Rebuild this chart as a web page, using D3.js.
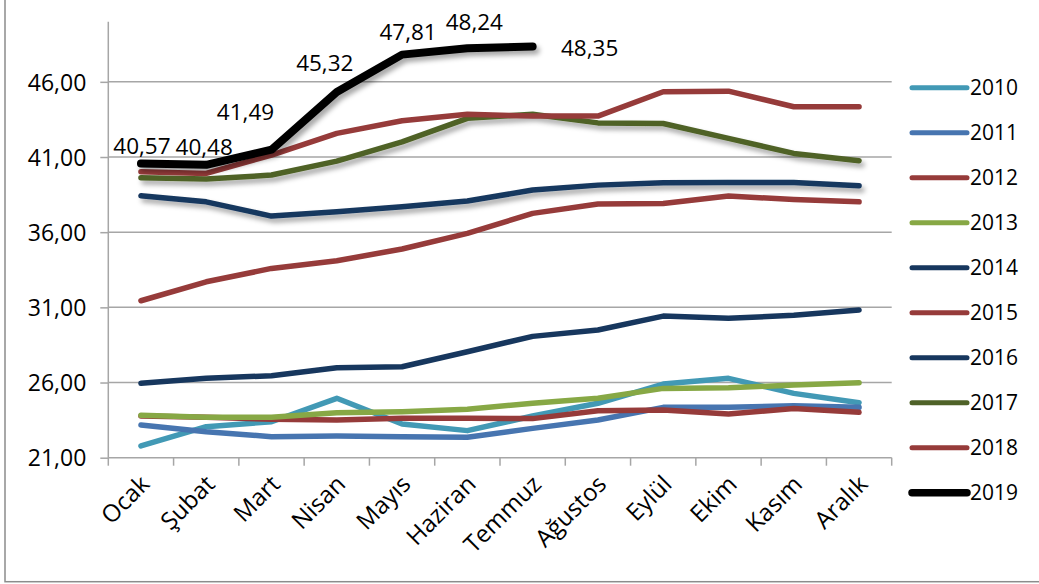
<!DOCTYPE html>
<html>
<head>
<meta charset="utf-8">
<script src="https://cdn.jsdelivr.net/npm/d3@7/dist/d3.min.js"></script>
<style>
  html, body { margin: 0; padding: 0; background: #fff; }
  svg { display: block; }
  text { font-family: "Open Sans", "Noto Sans", sans-serif; fill: #000; }
</style>
</head>
<body>
<svg id="chart" width="1039" height="584"></svg>
<script>
// ---- data ----
const months = ["Ocak","Şubat","Mart","Nisan","Mayıs","Haziran","Temmuz","Ağustos","Eylül","Ekim","Kasım","Aralık"];
const years = ["2010","2011","2012","2013","2014","2015","2016","2017","2018","2019"];
const yTicks = [21, 26, 31, 36, 41, 46];
const v2010 = [21.78,23.06,23.39,24.95,23.24,22.80,23.77,24.62,25.90,26.28,25.28,24.66];
const v2011 = [23.17,22.73,22.40,22.44,22.40,22.36,22.95,23.51,24.35,24.35,24.46,24.35];
const v2012 = [23.77,23.69,23.55,23.51,23.62,23.62,23.60,24.12,24.17,23.90,24.28,24.02];
const v2013 = [23.82,23.69,23.69,23.99,24.06,24.22,24.62,24.95,25.61,25.65,25.83,25.99];
const v2014 = [25.95,26.28,26.45,26.98,27.05,28.05,29.07,29.49,30.42,30.27,30.47,30.82];
const v2015 = [31.44,32.70,33.59,34.10,34.88,35.92,37.25,37.87,37.91,38.40,38.18,38.02];
const v2016 = [38.42,38.02,37.07,37.36,37.69,38.07,38.80,39.13,39.28,39.30,39.30,39.09];
const v2017 = [39.62,39.53,39.80,40.73,42.01,43.57,43.85,43.27,43.23,42.24,41.24,40.75];
const v2018 = [40.02,39.91,41.13,42.57,43.41,43.85,43.72,43.72,45.34,45.38,44.34,44.34];
const v2019 = [40.57,40.48,41.49,45.32,47.81,48.24,48.35];
const seriesValues = [v2010,v2011,v2012,v2013,v2014,v2015,v2016,v2017,v2018,v2019];

// ---- styles ----
const colors = ["#4299B5","#4775B0","#963B3A","#87A845","#17375E","#963B3A","#17375E","#4F6228","#963B3A","#000000"];
const widths = [5.5,5.5,5.5,5.5,5.5,5.5,5.5,5.5,5.5,8];
const shadowed = [false,false,false,false,false,false,true,true,false,true];
// label offsets (px) relative to each 2019 point
const labelOffsets = [[1,-18],[-2,-18],[-26,-38],[-12,-29],[6,-23],[7,-26],[57,1]];

const loc = d3.formatLocale({decimal: ",", thousands: ".", grouping: [3], currency: ["", ""]});
const fmt = loc.format(".2f");

const svg = d3.select("#chart");
const defs = svg.append("defs");
const f = defs.append("filter").attr("id","shadow").attr("x","-10%").attr("y","-50%").attr("width","120%").attr("height","200%");
f.append("feDropShadow").attr("dx",3).attr("dy",4).attr("stdDeviation",2.5).attr("flood-color","#000").attr("flood-opacity",0.35);

// outer frame
svg.append("rect").attr("x",5).attr("y",-10).attr("width",1100).attr("height",591.7)
  .attr("fill","none").attr("stroke","#8c8c8c").attr("stroke-width",1.5);

const plot = {left: 108.3, right: 891.7, top: 21.7, bottom: 457.7};
const x = d3.scaleBand().domain(months).range([plot.left, plot.right]);
const y = d3.scaleLinear().domain([21, 50]).range([plot.bottom, plot.top]);

// gridlines
svg.append("g").selectAll("line").data(yTicks.slice(1)).join("line")
  .attr("x1", plot.left).attr("x2", plot.right)
  .attr("y1", d => y(d)).attr("y2", d => y(d))
  .attr("stroke","#a6a6a6").attr("stroke-width",1.5);

// y axis
const yAxis = d3.axisLeft(y).tickValues(yTicks).tickSize(8).tickPadding(14).tickFormat(fmt);
const gy = svg.append("g").attr("transform",`translate(${plot.left},0)`).call(yAxis);
gy.select(".domain").attr("stroke","#a6a6a6").attr("stroke-width",1.5).attr("d",`M0,${plot.bottom}V${plot.top}`);
gy.selectAll(".tick line").attr("stroke","#a6a6a6").attr("stroke-width",1.5);
gy.selectAll(".tick text").attr("font-size",23).attr("font-family","Open Sans").attr("fill","#000").attr("dy","0.36em");

// x axis
const xAxis = d3.axisBottom(x).tickSize(0).tickFormat(d => d);
const gx = svg.append("g").attr("transform",`translate(0,${plot.bottom})`).call(xAxis);
gx.select(".domain").attr("stroke","#a6a6a6").attr("stroke-width",1.5).attr("d",`M${plot.left},0H${plot.right}`);
// band boundary ticks
gx.append("g").selectAll("line").data(d3.range(months.length + 1)).join("line")
  .attr("x1", i => plot.left + i * x.step()).attr("x2", i => plot.left + i * x.step())
  .attr("y1",0).attr("y2",8).attr("stroke","#a6a6a6").attr("stroke-width",1.5);
gx.selectAll(".tick text")
  .attr("font-size",24).attr("font-family","Open Sans").attr("fill","#000")
  .attr("text-anchor","end").attr("dy",0).attr("y",0)
  .attr("transform", "translate(10,28) rotate(-45)");

// lines
const line = d3.line().x((d,i) => x(months[i]) + x.bandwidth()/2).y(d => y(d));
const gl = svg.append("g");
seriesValues.forEach((vals, s) => {
  const p = gl.append("path").datum(vals)
    .attr("d", line)
    .attr("fill","none")
    .attr("stroke", colors[s])
    .attr("stroke-width", widths[s])
    .attr("stroke-linecap","round")
    .attr("stroke-linejoin","round");
  if (shadowed[s]) p.attr("filter","url(#shadow)");
});

// data labels for 2019
svg.append("g").selectAll("text").data(v2019).join("text")
  .attr("x", (d,i) => x(months[i]) + x.bandwidth()/2 + labelOffsets[i][0])
  .attr("y", (d,i) => y(d) + labelOffsets[i][1])
  .attr("dy","0.36em")
  .attr("text-anchor","middle")
  .attr("font-size",22.5)
  .text(d => fmt(d));

// legend
const lg = svg.append("g").attr("transform","translate(912,87.7)");
const items = lg.selectAll("g").data(years).join("g").attr("transform",(d,i)=>`translate(0,${i*45})`);
items.append("line").attr("x1",0).attr("x2",55).attr("y1",0).attr("y2",0)
  .attr("stroke",(d,i)=>colors[i]).attr("stroke-width",(d,i)=> i===9 ? 7.5 : 5).attr("stroke-linecap","round");
items.append("text").attr("x",58).attr("dy","0.36em").attr("font-size",21).text(d=>d);
</script>
</body>
</html>
